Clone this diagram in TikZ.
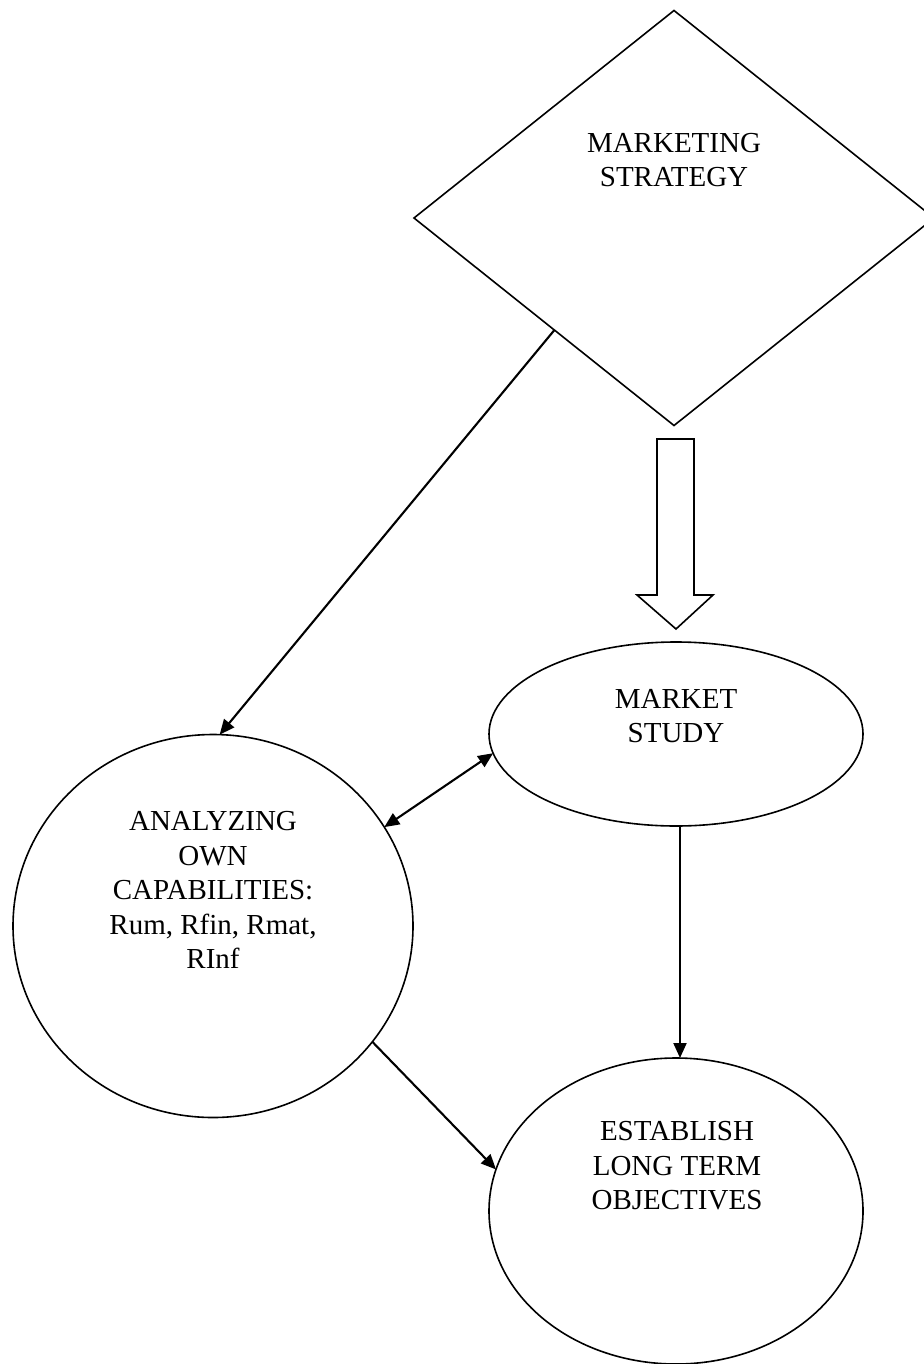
\documentclass[tikz,border=0pt]{standalone}
\usepackage{fontspec}
\setmainfont{Liberation Serif}
\usepackage{xcolor}
\usepackage{tikz}
\usetikzlibrary{calc,shapes.geometric,arrows.meta}
\definecolor{ink}{HTML}{000000}
\tikzset{
  shp/.style={draw=ink, line width=1.6pt, inner sep=0pt, outer sep=0pt},
  conn/.style={draw=ink, line width=2.1pt, -{Triangle[length=15pt,width=13pt]}},
  both/.style={draw=ink, line width=2.1pt, {Triangle[length=15pt,width=13pt]}-{Triangle[length=15pt,width=13pt]}},
  lab/.style={text=ink, font=\fontsize{29}{34.5}\selectfont, align=center, inner sep=0pt},
}

\begin{document}
\begin{tikzpicture}[x=1pt,y=-1pt]
  \useasboundingbox (0,0) rectangle (923,1364);

  \node[shp, diamond, minimum width=520pt, minimum height=415pt] (strat) at (674,218) {};
  \node[shp, ellipse, minimum width=374pt, minimum height=184pt] (mkt) at (676,734) {};
  \node[shp, ellipse, minimum width=400pt, minimum height=383pt] (cap) at (213,926) {};
  \node[shp, ellipse, minimum width=374pt, minimum height=306pt] (est) at (676,1211) {};

  \node[lab] (stratT) at (674,160) {MARKETING\\STRATEGY};
  \node[lab] (mktT) at (676,716) {MARKET\\STUDY};
  \node[lab] (capT) at (213,890) {ANALYZING\\OWN\\CAPABILITIES:\\Rum, Rfin, Rmat,\\RInf};
  \node[lab] (estT) at (677,1166) {ESTABLISH\\LONG TERM\\OBJECTIVES};

  % hollow block arrow
  \coordinate (bt) at (676,439);
  \draw[shp] (bt) ++(-19,0) -- ++(37,0) -- ++(0,156) -- ++(19,0) -- (676,629)
    -- (637,595) -- ++(20,0) -- cycle;

  \coordinate (src) at ($(strat.west)!0.54!(strat.south)$);
  \draw[conn] (src) -- (cap.88);
  \draw[both] (cap.30) -- (mkt.186);
  \draw[conn] ($(mkt.south)+(4,0)$) -- ($(est.north)+(4,0)$);
  \draw[conn] (cap.-36) -- (est.167);
\end{tikzpicture}
\end{document}
